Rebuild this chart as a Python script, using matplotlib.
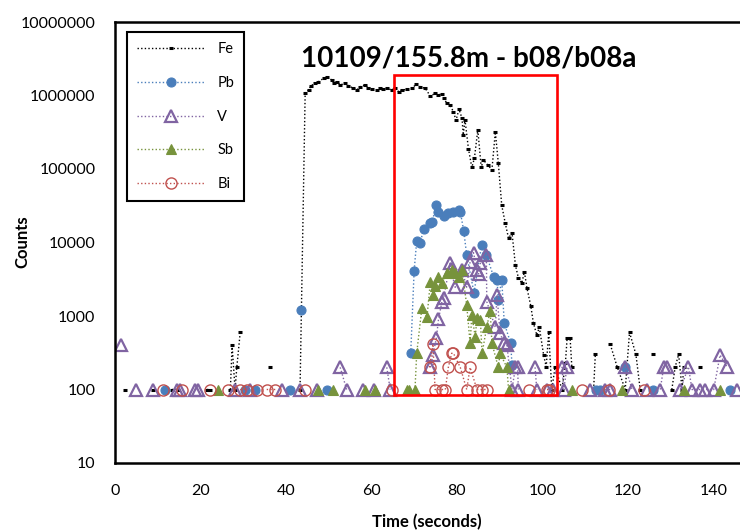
import numpy as np
import matplotlib
matplotlib.use("Agg")
import matplotlib.pyplot as plt
import matplotlib.patches as patches
from matplotlib.lines import Line2D

plt.rcParams['font.family'] = ['Lato', 'DejaVu Sans']

# Time-resolved counts for each element (seconds, counts); zero counts are not listed
fe_t = [2.3, 8.9, 13.3, 14.8, 21.5, 22.2, 27.0, 27.4, 28.1, 28.5, 29.3, 36.3, 43.3,
        44.5, 45.3, 45.9, 46.8, 47.6, 48.8, 49.6, 50.7, 51.3, 51.9, 52.7, 53.9, 54.6,
        55.8, 56.6, 57.4, 58.5, 59.3, 60.1, 61.3, 62.0, 62.8, 63.6, 64.8, 65.6, 66.4,
        67.1, 68.3, 69.5, 70.5, 71.4, 72.6, 73.8, 74.9, 75.7, 76.5, 76.9, 77.7, 78.4,
        79.2, 79.8, 80.5, 81.2, 81.5, 81.9, 82.7, 83.5, 84.1, 84.9, 85.7, 86.2, 87.3,
        88.2, 89.0, 89.7, 90.5, 91.3, 92.1, 92.9, 93.7, 94.4, 95.2, 95.8, 96.4, 97.3,
        97.9, 98.7, 99.3, 100.3, 100.9, 101.5, 102.2, 103.0, 104.6, 105.4, 105.8, 106.5,
        106.9, 112.0, 112.4, 115.9, 117.5, 119.4, 120.4, 121.9, 122.9, 126.0, 130.3,
        131.1, 131.9, 132.7, 133.1, 137.0]
fe_c = [100, 100, 100, 100, 100, 100, 100, 400, 100, 200, 600, 200, 100,
        1.08e6, 1.19e6, 1.36e6, 1.47e6, 1.54e6, 1.71e6, 1.80e6, 1.63e6, 1.47e6, 1.54e6,
        1.39e6, 1.47e6, 1.36e6, 1.25e6, 1.19e6, 1.32e6, 1.39e6, 1.28e6, 1.23e6, 1.19e6,
        1.28e6, 1.23e6, 1.25e6, 1.19e6, 1.28e6, 1.12e6, 1.19e6, 1.21e6, 1.25e6, 1.43e6,
        1.32e6, 1.25e6, 9.8e5, 1.07e6, 1.02e6, 1.05e6, 9.2e5, 7.8e5, 7.4e5, 6.0e5,
        4.6e5, 6.5e5, 4.9e5, 2.9e5, 4.7e5, 1.9e5, 1.05e5, 1.4e5, 3.4e5, 1.05e5, 1.32e5,
        1.13e5, 9.7e4, 3.2e5, 1.2e5, 3.2e4, 1.86e4, 1.14e4, 1.36e4, 4900, 3300, 2800,
        4000, 2400, 1370, 810, 550, 700, 295, 204, 600, 100, 204, 100, 230, 500, 500,
        204, 100, 300, 410, 204, 100, 600, 300, 100, 300, 100,
        204, 300, 100, 204, 204]

pb_t = [11.7, 30.4, 32.8, 41.0, 43.5, 49.6, 69.2, 70.0, 70.6, 71.4, 72.2, 73.6, 74.2,
        75.2, 75.7, 76.9, 78.0, 79.2, 80.4, 80.8, 81.6, 82.3, 84.0, 85.8, 86.9, 88.6,
        89.4, 89.7, 90.5, 91.1, 92.6, 92.9, 112.6, 113.6, 119.4, 126.0, 144.0]
pb_c = [100, 100, 100, 100, 1210, 100, 311, 4130, 10470, 9750, 15100, 18400, 19000,
        32400, 26250, 22950, 24950, 26250, 27700, 26250, 14450, 6760, 2075, 9250, 6760,
        3430, 3090, 1650, 3090, 796, 425, 215, 100, 100, 204, 100, 100]

v_t = [1.3, 4.9, 9.0, 14.4, 15.2, 18.7, 19.5, 28.1, 31.6, 39.0, 43.3, 47.2, 52.7, 54.2,
       58.1, 60.5, 63.6, 64.4, 73.8, 74.4, 75.2, 75.7, 76.5, 76.9, 78.4, 78.6, 79.6,
       81.2, 82.3, 83.1, 83.9, 84.7, 85.1, 85.5, 86.9, 87.0, 89.0, 89.4, 90.1, 91.1,
       91.7, 92.9, 93.7, 94.2, 94.4, 98.3, 98.7, 101.1, 102.5, 104.6, 105.0, 105.8,
       111.2, 114.7, 115.9, 119.4, 121.0, 124.5, 127.6, 128.4, 129.2, 132.3, 134.2,
       135.0, 137.0, 138.1, 140.1, 141.6, 143.2, 145.5]
v_c = [403, 100, 100, 100, 100, 100, 100, 100, 100, 100, 100, 100, 200, 100,
       100, 100, 200, 100, 200, 295, 500, 900, 1565, 1740, 5210, 4300, 2460,
       4250, 2460, 5480, 7260, 4250, 3730, 5210, 6760, 1565, 700, 1930, 580, 425,
       403, 100, 200, 200, 100, 200, 100, 100, 100, 204, 100, 204,
       100, 100, 100, 204, 100, 100, 100, 204, 204, 100, 204,
       100, 100, 100, 100, 295, 204, 100]

sb_t = [24.2, 47.4, 51.1, 58.5, 60.9, 68.3, 68.9, 70.2, 70.6, 71.8, 73.0, 73.8, 74.4,
        74.9, 75.7, 76.5, 77.7, 78.8, 79.6, 80.4, 81.2, 82.3, 83.1, 83.5, 84.3, 84.7,
        85.5, 85.9, 87.0, 87.8, 88.2, 89.7, 90.1, 91.7, 92.1, 106.9, 118.6, 133.1, 141.6]
sb_c = [100, 100, 100, 100, 100, 100, 100, 100, 311, 1270, 960, 2930, 1930,
        2560, 3430, 2790, 3810, 4250, 3880, 3430, 4250, 1410, 425, 1030, 520, 930,
        880, 311, 715, 1180, 425, 200, 311, 200, 100, 100, 100, 100, 100]

bi_t = [11.3, 15.6, 22.2, 26.5, 29.3, 30.8, 33.2, 35.5, 37.5, 44.5, 64.8, 73.6, 74.4,
        74.9, 76.5, 77.3, 78.0, 78.8, 79.2, 80.8, 82.3, 83.1, 84.7, 85.9, 87.0, 96.8,
        101.1, 101.5, 109.3, 115.5, 123.7]
bi_c = [100, 100, 100, 100, 100, 100, 100, 100, 100, 100, 100, 200, 416,
        100, 100, 100, 200, 311, 311, 200, 100, 200, 100, 100, 100, 100,
        100, 100, 100, 100, 100]

labels = ["Fe", "Pb", "V", "Sb", "Bi"]
x_ticks = [0, 20, 40, 60, 80, 100, 120, 140]
y_ticks = [10, 100, 1000, 10000, 100000, 1000000, 10000000]
title = "10109/155.8m - b08/b08a"

styles = [
    dict(color="black", marker="_", markersize=3.5, markeredgewidth=2.2, mfc="black"),
    dict(color="#4A7EBB", marker="o", markersize=6.5, markeredgewidth=0.8, mfc="#4A7EBB"),
    dict(color="#8064A2", marker="^", markersize=8.5, markeredgewidth=1.6, mfc="none"),
    dict(color="#77933C", marker="^", markersize=7, markeredgewidth=0.8, mfc="#77933C"),
    dict(color="#C0504D", marker="o", markersize=8, markeredgewidth=1.0, mfc="none"),
]
dots = (0, (1, 1.6))


def with_gaps(t, c, max_gap=2.0):
    # break the line wherever samples with zero counts were dropped
    xs, ys = [t[0]], [c[0]]
    for i in range(1, len(t)):
        if t[i] - t[i - 1] > max_gap:
            xs.append(np.nan)
            ys.append(np.nan)
        xs.append(t[i])
        ys.append(c[i])
    return xs, ys


fig = plt.figure(figsize=(7.4, 5.32), dpi=100)
ax = fig.add_axes([115 / 740, 69 / 532, 641 / 740, 441 / 532])

series = [(fe_t, fe_c), (pb_t, pb_c), (v_t, v_c), (sb_t, sb_c), (bi_t, bi_c)]
handles = []
for (t, c), lab, st in zip(series, labels, styles):
    xs, ys = with_gaps(t, c)
    ax.plot(xs, ys, linestyle=dots, linewidth=1.0, color=st["color"], marker=st["marker"],
            markersize=st["markersize"], markeredgewidth=st["markeredgewidth"],
            markerfacecolor=st["mfc"], markeredgecolor=st["color"])
    handles.append(Line2D([], [], linestyle=dots, linewidth=1.0, color=st["color"],
                          marker=st["marker"], markersize=st["markersize"],
                          markeredgewidth=st["markeredgewidth"],
                          markerfacecolor=st["mfc"], markeredgecolor=st["color"]))

ax.set_yscale("log")
ax.set_xlim(0, 150)
ax.set_ylim(10, 1e7)
ax.set_xticks(x_ticks)
ax.set_xticklabels([str(v) for v in x_ticks])
ax.set_yticks(y_ticks)
ax.set_yticklabels([str(v) for v in y_ticks])
ax.minorticks_off()
ax.tick_params(axis="both", length=0, labelsize=11.5)
ax.tick_params(axis="y", pad=14)
ax.tick_params(axis="x", pad=15)
for sp in ax.spines.values():
    sp.set_linewidth(1.8)

# highlighted interval
ax.add_patch(patches.Rectangle((65.3, 84), 103.5 - 65.3, 1.9e6 - 84, fill=False,
                               edgecolor="#FF0000", linewidth=1.9, zorder=5))

ax.text(0.551, 0.918, title, transform=ax.transAxes, ha="center", va="center",
        fontsize=20, fontweight="bold")

leg = ax.legend(handles, labels, loc="upper left", bbox_to_anchor=(0.0187, 0.977),
                borderaxespad=0, fancybox=False, edgecolor="black", framealpha=1,
                fontsize=10.5, handlelength=4.6, labelspacing=1.35, borderpad=0.7,
                handletextpad=0.9)
leg.get_frame().set_linewidth(1.5)

fig.text(22 / 740, 1 - 242 / 532, "Counts", rotation=90, ha="center", va="center",
         fontsize=12, fontweight="bold")
fig.text(427 / 740, 1 - 522 / 532, "Time (seconds)", ha="center", va="center",
         fontsize=12, fontweight="bold")

fig.savefig("out.png", dpi=100)
